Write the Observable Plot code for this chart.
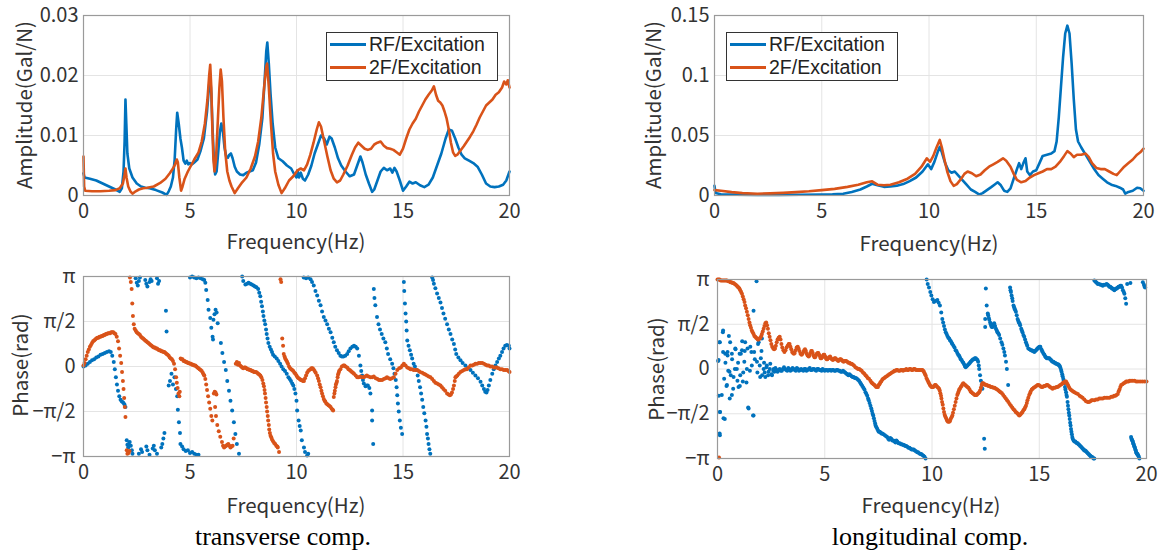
<!DOCTYPE html>
<html><head><meta charset="utf-8">
<script src="https://cdn.jsdelivr.net/npm/d3@7"></script>
<script src="https://cdn.jsdelivr.net/npm/@observablehq/plot@0.6"></script>
<style>
html,body{margin:0;padding:0;background:#fff;}
body{width:1162px;height:554px;position:relative;overflow:hidden;font-family:"Noto Sans CJK JP","Noto Sans",sans-serif;}
.panel{position:absolute;}
.xl{position:absolute;width:300px;text-align:center;font-size:20.5px;color:#333;line-height:22px;white-space:nowrap;}
.yl{position:absolute;width:240px;text-align:center;font-size:20.5px;color:#333;line-height:22px;white-space:nowrap;transform:rotate(-90deg);transform-origin:center center;}
.cap{position:absolute;width:400px;text-align:center;font-family:"Liberation Serif","Times New Roman",serif;font-size:26px;color:#000;line-height:30px;white-space:nowrap;}
.legend{position:absolute;background:#fff;border:1px solid #333;box-sizing:border-box;}
.legend .ln{position:absolute;height:3px;}
.legend .tx{position:absolute;font-family:"Liberation Sans",Arial,sans-serif;font-size:19.5px;color:#222;line-height:21px;white-space:nowrap;}
</style></head>
<body>
<script>
// ---------------- data ----------------
const seriesNames = ["RF/Excitation", "2F/Excitation"];
const seriesColors = ["#0072BD", "#D95319"];
const captions = ["transverse comp.", "longitudinal comp."];
const xLabel = "Frequency(Hz)";
const ampLabel = "Amplitude(Gal/N)";
const phaseLabel = "Phase(rad)";
const freqTicks = [0, 5, 10, 15, 20];
const ampTicksTransverse = [0, 0.01, 0.02, 0.03];
const ampTicksLongitudinal = [0, 0.05, 0.1, 0.15];
const phaseTicks = [-1, -0.5, 0, 0.5, 1];           // units of pi
const phaseTickLabels = ["−π", "−π/2", "0", "π/2", "π"];

// amplitude, transverse [Hz, Gal/N]
const ampTransRF = [[0,0.0037],[0.05,0.003],[0.3,0.0028],[0.6,0.0025],[0.9,0.002],[1.2,0.0015],[1.5,0.001],[1.7,0.0006],[1.8,0.0012],[1.88,0.004],[1.93,0.009],[1.97,0.016],[2.01,0.012],[2.06,0.007],[2.15,0.0045],[2.3,0.003],[2.5,0.002],[2.7,0.0015],[2.9,0.0013],[3.1,0.0012],[3.4,0.0009],[3.7,0.0005],[3.9,0.0001],[4.0,0.0007],[4.1,0.0015],[4.2,0.003],[4.28,0.006],[4.35,0.011],[4.4,0.0138],[4.47,0.012],[4.55,0.0095],[4.62,0.008],[4.7,0.0058],[4.78,0.0053],[4.85,0.0058],[4.92,0.0052],[5.0,0.0054],[5.1,0.0052],[5.2,0.0055],[5.35,0.006],[5.5,0.0075],[5.65,0.0095],[5.8,0.014],[5.9,0.0185],[5.95,0.0196],[6.0,0.017],[6.05,0.012],[6.12,0.006],[6.18,0.0035],[6.25,0.004],[6.32,0.007],[6.4,0.0105],[6.47,0.012],[6.55,0.0105],[6.62,0.008],[6.7,0.0065],[6.78,0.0063],[6.85,0.0068],[6.92,0.007],[7.0,0.0062],[7.1,0.0048],[7.2,0.004],[7.35,0.0035],[7.5,0.0034],[7.65,0.0038],[7.8,0.004],[7.95,0.0042],[8.1,0.0055],[8.25,0.0085],[8.4,0.013],[8.5,0.019],[8.58,0.024],[8.63,0.0255],[8.7,0.022],[8.78,0.017],[8.88,0.012],[9.0,0.008],[9.15,0.0062],[9.35,0.0057],[9.55,0.005],[9.75,0.0045],[9.9,0.0035],[10.0,0.003],[10.05,0.0042],[10.12,0.003],[10.2,0.0038],[10.3,0.0028],[10.4,0.0025],[10.55,0.0035],[10.7,0.005],[10.85,0.007],[11.0,0.0085],[11.15,0.01],[11.3,0.0095],[11.42,0.0085],[11.55,0.0098],[11.65,0.0095],[11.8,0.008],[11.95,0.0062],[12.1,0.005],[12.3,0.004],[12.5,0.0032],[12.7,0.0035],[12.85,0.005],[13.0,0.0065],[13.1,0.0055],[13.25,0.0035],[13.4,0.002],[13.55,0.0006],[13.65,0.001],[13.8,0.0025],[13.95,0.004],[14.1,0.0046],[14.25,0.0042],[14.4,0.0045],[14.5,0.0038],[14.6,0.0046],[14.7,0.004],[14.85,0.0025],[15.0,0.0008],[15.15,0.0015],[15.3,0.0023],[15.45,0.002],[15.6,0.0022],[15.8,0.0017],[16.0,0.0014],[16.2,0.0018],[16.4,0.003],[16.6,0.005],[16.8,0.007],[17.0,0.0095],[17.15,0.011],[17.3,0.0108],[17.45,0.0095],[17.6,0.008],[17.75,0.0068],[17.9,0.0062],[18.1,0.0058],[18.3,0.0054],[18.5,0.0048],[18.7,0.0035],[18.9,0.002],[19.1,0.0015],[19.3,0.0014],[19.5,0.0015],[19.7,0.0018],[19.85,0.0025],[20,0.004]];
const ampTrans2F = [[0,0.0065],[0.03,0.0015],[0.08,0.0008],[0.4,0.0007],[0.8,0.0007],[1.2,0.0008],[1.5,0.0009],[1.7,0.0012],[1.85,0.002],[1.93,0.0035],[1.97,0.0045],[2.02,0.003],[2.1,0.0015],[2.2,0.0007],[2.3,0.0003],[2.45,0.0007],[2.6,0.001],[2.8,0.0012],[3.0,0.0013],[3.3,0.0015],[3.6,0.0021],[3.85,0.0028],[4.05,0.0037],[4.2,0.0045],[4.3,0.0052],[4.38,0.006],[4.43,0.0055],[4.5,0.003],[4.58,0.0008],[4.65,0.0015],[4.75,0.0028],[4.9,0.004],[5.05,0.005],[5.2,0.006],[5.4,0.0072],[5.55,0.009],[5.7,0.012],[5.82,0.016],[5.9,0.02],[5.95,0.0218],[6.0,0.018],[6.05,0.011],[6.1,0.006],[6.15,0.004],[6.22,0.006],[6.3,0.012],[6.38,0.018],[6.44,0.021],[6.5,0.019],[6.57,0.013],[6.65,0.0075],[6.75,0.004],[6.85,0.0025],[6.95,0.0015],[7.1,0.0004],[7.25,0.0012],[7.45,0.0022],[7.65,0.003],[7.85,0.0045],[8.05,0.0065],[8.2,0.009],[8.35,0.013],[8.48,0.018],[8.58,0.0215],[8.62,0.022],[8.7,0.018],[8.8,0.012],[8.9,0.007],[9.0,0.004],[9.15,0.0018],[9.3,0.0004],[9.45,0.0012],[9.65,0.0025],[9.85,0.0032],[10.05,0.0042],[10.2,0.0045],[10.35,0.0042],[10.5,0.0052],[10.65,0.0068],[10.8,0.0088],[10.95,0.011],[11.05,0.0122],[11.15,0.0115],[11.3,0.009],[11.45,0.0065],[11.6,0.0042],[11.75,0.0028],[11.9,0.0022],[12.05,0.0025],[12.2,0.0035],[12.4,0.005],[12.6,0.0068],[12.75,0.008],[12.9,0.0088],[13.05,0.0083],[13.2,0.0078],[13.35,0.0076],[13.5,0.0078],[13.65,0.0085],[13.8,0.0088],[13.95,0.009],[14.1,0.0083],[14.25,0.0079],[14.4,0.0078],[14.55,0.0076],[14.7,0.0072],[14.85,0.0068],[15.0,0.0078],[15.15,0.0095],[15.3,0.011],[15.45,0.012],[15.6,0.0128],[15.75,0.014],[15.9,0.015],[16.05,0.016],[16.2,0.0168],[16.35,0.0175],[16.45,0.0182],[16.55,0.0168],[16.65,0.0158],[16.75,0.0155],[16.85,0.015],[16.95,0.014],[17.05,0.0128],[17.15,0.011],[17.25,0.0088],[17.35,0.0072],[17.45,0.0066],[17.55,0.0068],[17.7,0.0075],[17.85,0.0082],[18.0,0.009],[18.15,0.0098],[18.3,0.0107],[18.45,0.0118],[18.6,0.013],[18.75,0.014],[18.9,0.015],[19.05,0.0155],[19.2,0.016],[19.35,0.0168],[19.5,0.0172],[19.65,0.018],[19.75,0.019],[19.85,0.0185],[19.92,0.0192],[20,0.018]];

// amplitude, longitudinal [Hz, Gal/N]
const ampLongRF = [[0,0.008],[0.05,0.002],[0.3,0.001],[1,0.0007],[2,0.0005],[3,0.0005],[4,0.0006],[5,0.0008],[5.5,0.001],[6,0.0015],[6.4,0.003],[6.8,0.005],[7.1,0.0075],[7.35,0.0098],[7.6,0.0085],[7.9,0.0072],[8.2,0.0075],[8.5,0.0082],[8.8,0.0095],[9.1,0.012],[9.4,0.015],[9.7,0.02],[9.95,0.026],[10.1,0.022],[10.25,0.028],[10.4,0.036],[10.5,0.0405],[10.6,0.036],[10.75,0.027],[10.9,0.021],[11.05,0.019],[11.2,0.02],[11.35,0.017],[11.55,0.013],[11.75,0.009],[11.95,0.005],[12.15,0.003],[12.35,0.0008],[12.5,0.002],[12.7,0.0045],[12.9,0.007],[13.05,0.009],[13.2,0.011],[13.35,0.0085],[13.5,0.004],[13.65,0.003],[13.8,0.006],[13.95,0.014],[14.1,0.022],[14.2,0.027],[14.3,0.022],[14.4,0.027],[14.5,0.031],[14.58,0.02],[14.7,0.017],[14.85,0.02],[15.0,0.021],[15.15,0.027],[15.3,0.033],[15.5,0.034],[15.7,0.035],[15.85,0.037],[15.95,0.045],[16.05,0.065],[16.15,0.09],[16.25,0.115],[16.35,0.135],[16.45,0.1415],[16.55,0.135],[16.65,0.11],[16.75,0.08],[16.85,0.055],[16.95,0.045],[17.1,0.04],[17.3,0.034],[17.5,0.028],[17.7,0.022],[17.9,0.017],[18.1,0.014],[18.3,0.011],[18.5,0.009],[18.7,0.008],[18.9,0.0065],[19.05,0.005],[19.15,0.0015],[19.3,0.003],[19.5,0.004],[19.7,0.0065],[19.85,0.006],[20,0.004]];
const ampLong2F = [[0,0.0045],[0.3,0.004],[0.8,0.0028],[1.3,0.002],[2,0.0015],[2.6,0.0018],[3.2,0.0022],[3.8,0.0028],[4.4,0.0035],[5,0.0045],[5.6,0.0055],[6.2,0.0072],[6.7,0.009],[7.1,0.011],[7.35,0.0118],[7.6,0.009],[7.9,0.0085],[8.2,0.009],[8.6,0.011],[9.0,0.014],[9.35,0.018],[9.65,0.024],[9.9,0.031],[10.05,0.028],[10.2,0.033],[10.35,0.04],[10.5,0.0463],[10.6,0.04],[10.72,0.03],[10.85,0.02],[11.0,0.012],[11.15,0.008],[11.3,0.0095],[11.5,0.014],[11.65,0.018],[11.8,0.02],[12.0,0.0185],[12.2,0.016],[12.4,0.0175],[12.6,0.021],[12.8,0.024],[13.0,0.026],[13.2,0.028],[13.45,0.031],[13.6,0.029],[13.8,0.024],[13.95,0.018],[14.1,0.013],[14.3,0.011],[14.5,0.012],[14.7,0.015],[14.9,0.017],[15.1,0.0185],[15.3,0.02],[15.5,0.022],[15.7,0.022],[15.9,0.024],[16.1,0.028],[16.3,0.033],[16.45,0.037],[16.6,0.035],[16.75,0.032],[16.9,0.034],[17.1,0.034],[17.3,0.035],[17.45,0.032],[17.6,0.027],[17.8,0.023],[18.0,0.022],[18.2,0.022],[18.4,0.02],[18.6,0.018],[18.75,0.017],[18.9,0.02],[19.1,0.024],[19.3,0.027],[19.5,0.03],[19.7,0.034],[19.85,0.036],[20,0.039]];

// phase, transverse [Hz, phase in units of pi]
const phaseTransRF = [[0,0],[0.1,0.01],[0.2,0.03],[0.3,0.05],[0.4,0.07],[0.5,0.08],[0.6,0.1],[0.7,0.11],[0.8,0.13],[0.9,0.14],[1.0,0.15],[1.1,0.16],[1.2,0.17],[1.28,0.16],[1.35,0.12],[1.42,0.05],[1.47,-0.03],[1.52,-0.12],[1.57,-0.2],[1.62,-0.27],[1.68,-0.33],[1.74,-0.37],[1.8,-0.39],[1.86,-0.4],[1.92,-0.42],[1.97,-0.45],
[2.03,-0.82],[2.06,-0.87],[2.1,-0.9],[2.12,-0.86],[2.17,-0.84],[2.22,-0.88],[2.27,-0.93],[2.3,-0.97],[2.45,0.98],[2.5,0.93],[2.55,0.9],[2.6,0.95],[2.65,0.99],[2.6,-0.97],[2.7,-0.92],[2.75,-0.95],[2.9,0.96],[2.95,0.92],[3.0,0.89],[3.1,0.94],[2.95,-0.89],[3.0,-0.93],[3.1,-0.98],[3.15,0.97],[3.2,0.95],[3.25,-0.91],[3.3,-0.88],[3.35,-0.93],[3.45,-0.97],[3.45,0.98],[3.5,0.92],[3.55,0.95],[3.65,-0.9],[3.7,-0.86],[3.75,-0.8],[3.8,-0.74],[3.87,0.62],[3.9,0.39],
[4.0,-0.21],[4.06,-0.16],[4.13,-0.08],[4.2,-0.2],[4.27,-0.12],[4.34,-0.25],[4.4,-0.33],[4.43,-0.48],[4.48,-0.62],[4.53,-0.74],[4.55,-0.86],[4.63,-0.89],[4.7,-0.92],[4.8,-0.94],[4.9,-0.93],[5.0,-0.96],[5.1,-0.95],[5.2,-0.97],[5.3,-0.98],[5.4,-0.98],
[5.0,0.99],[5.1,1.0],[5.2,0.99],[5.3,0.98],[5.4,0.99],[5.5,0.98],[5.6,0.97],[5.67,0.96],[5.72,0.93],[5.76,0.85],[5.83,0.74],[5.87,0.63],[5.95,0.54],[6.0,0.43],[6.06,0.33],[6.08,0.3],[6.1,0.52],[6.15,0.58],[6.2,0.63],[6.25,0.6],[6.3,0.48],[6.45,0.26],[6.52,0.15],[6.6,0.05],[6.68,-0.04],[6.75,-0.16],[6.83,-0.27],[6.9,-0.38],[6.98,-0.49],[7.06,-0.62],[7.13,-0.75],[7.2,-0.86],[7.3,-0.97],
[7.45,1.0],[7.5,0.95],[7.6,0.91],[7.68,0.92],[7.75,0.93],[7.83,0.92],[7.9,0.91],[7.98,0.9],[8.05,0.89],[8.12,0.88],[8.2,0.86],[8.25,0.82],[8.3,0.78],[8.34,0.72],[8.38,0.67],[8.42,0.61],[8.45,0.56],[8.49,0.51],[8.53,0.47],[8.57,0.41],[8.6,0.36],[8.64,0.31],[8.68,0.26],[8.74,0.22],[8.8,0.19],[8.85,0.16],[8.9,0.13],[8.98,0.11],[9.07,0.09],[9.15,0.06],[9.23,0.03],[9.3,0.0],[9.38,-0.03],[9.46,-0.05],[9.54,-0.08],[9.62,-0.12],[9.68,-0.14],[9.74,-0.16],[9.8,-0.19],[9.85,-0.21],[9.9,-0.25],[9.95,-0.3],[10.0,-0.38],[10.03,-0.49],[10.1,-0.6],[10.15,-0.66],[10.2,-0.71],[10.25,-0.82],[10.35,-0.9],[10.4,-0.95],[10.5,-0.99],[10.55,-0.97],
[10.34,0.99],[10.45,0.98],[10.55,0.99],[10.66,0.97],[10.73,0.94],[10.81,0.9],[10.89,0.84],[10.97,0.79],[11.05,0.73],[11.13,0.68],[11.2,0.61],[11.28,0.55],[11.36,0.51],[11.44,0.47],[11.52,0.42],[11.6,0.38],[11.68,0.32],[11.75,0.27],[11.82,0.22],[11.9,0.18],[11.98,0.15],[12.06,0.12],[12.13,0.11],[12.2,0.11],[12.29,0.12],[12.38,0.14],[12.45,0.17],[12.53,0.2],[12.62,0.22],[12.7,0.23],[12.78,0.22],[12.85,0.2],[12.93,0.12],[13.0,0.01],[13.04,-0.05],[13.08,-0.1],[13.12,-0.15],[13.16,-0.19],[13.24,-0.22],[13.3,-0.21],[13.35,-0.21],[13.42,-0.24],[13.47,-0.3],[13.55,-0.49],[13.55,-0.6],[13.6,-0.86],
[13.63,0.86],[13.66,0.76],[13.7,0.68],[13.78,0.55],[13.85,0.47],[13.92,0.41],[14.0,0.36],[14.08,0.31],[14.17,0.27],[14.24,0.2],[14.3,0.14],[14.4,0.08],[14.49,0.03],[14.55,-0.02],[14.6,-0.08],[14.66,-0.15],[14.7,-0.23],[14.73,-0.32],[14.76,-0.41],[14.8,-0.5],[14.85,-0.6],[14.9,-0.68],[14.96,-0.75],
[15.04,0.94],[15.06,0.84],[15.09,0.7],[15.12,0.59],[15.15,0.5],[15.17,0.4],[15.2,0.29],[15.26,0.23],[15.32,0.18],[15.38,0.13],[15.43,0.09],[15.5,0.03],[15.56,0.0],[15.63,-0.04],[15.69,-0.1],[15.74,-0.16],[15.8,-0.23],[15.85,-0.3],[15.9,-0.37],[15.95,-0.45],[16.0,-0.52],[16.06,-0.6],[16.1,-0.67],[16.13,-0.75],[16.17,-0.8],[16.2,-0.86],[16.24,-0.92],[16.28,-0.97],
[16.37,0.99],[16.41,0.96],[16.45,0.92],[16.52,0.87],[16.6,0.81],[16.68,0.76],[16.76,0.71],[16.83,0.65],[16.9,0.59],[16.98,0.53],[17.07,0.47],[17.15,0.41],[17.23,0.36],[17.31,0.3],[17.39,0.25],[17.45,0.19],[17.5,0.14],[17.6,0.1],[17.7,0.07],[17.8,0.04],[17.93,0.01],[18.05,-0.02],[18.17,-0.04],[18.28,-0.07],[18.4,-0.1],[18.52,-0.13],[18.64,-0.17],[18.72,-0.21],[18.8,-0.25],[18.86,-0.28],[18.92,-0.29],[18.97,-0.26],[19.03,-0.21],[19.1,-0.15],[19.19,-0.08],[19.26,-0.03],[19.34,0.01],[19.42,0.05],[19.5,0.09],[19.57,0.12],[19.65,0.16],[19.72,0.2],[19.8,0.23],[19.88,0.24],[19.97,0.23],[20,0.2]];
const phaseTrans2F = [[0,0.01],[0.05,0.04],[0.1,0.08],[0.15,0.12],[0.2,0.16],[0.25,0.19],[0.3,0.22],[0.35,0.24],[0.4,0.26],[0.45,0.28],[0.5,0.29],[0.55,0.3],[0.6,0.31],[0.65,0.32],[0.7,0.32],[0.75,0.33],[0.8,0.33],[0.85,0.34],[0.9,0.34],[0.95,0.35],[1.0,0.35],[1.05,0.36],[1.1,0.36],[1.15,0.37],[1.2,0.37],[1.25,0.37],[1.3,0.38],[1.35,0.38],[1.4,0.38],[1.45,0.37],[1.5,0.36],[1.56,0.33],[1.62,0.28],[1.67,0.2],[1.72,0.12],[1.77,0.04],[1.81,-0.06],[1.85,-0.16],[1.88,-0.25],[1.91,-0.35],[1.94,-0.45],[1.97,-0.56],[2.03,-0.93],[2.06,-0.97],[2.12,-0.96],[2.16,-0.94],
[2.18,0.99],[2.22,0.94],[2.26,0.86],[2.29,0.7],[2.32,0.56],[2.36,0.47],[2.4,0.42],[2.45,0.4],[2.5,0.38],[2.55,0.37],[2.6,0.36],[2.65,0.35],[2.7,0.33],[2.75,0.32],[2.8,0.31],[2.85,0.3],[2.9,0.29],[2.95,0.28],[3.0,0.27],[3.05,0.26],[3.1,0.25],[3.15,0.24],[3.2,0.23],[3.25,0.22],[3.3,0.21],[3.35,0.21],[3.4,0.2],[3.45,0.2],[3.5,0.19],[3.55,0.18],[3.6,0.18],[3.65,0.17],[3.7,0.17],[3.75,0.16],[3.8,0.16],[3.85,0.15],[3.9,0.14],[3.95,0.13],[4.0,0.12],[4.05,0.1],[4.1,0.09],[4.15,0.08],[4.2,0.06],[4.25,0.03],[4.3,-0.03],[4.35,-0.12],[4.38,-0.18],[4.42,-0.24],[4.46,-0.3],[4.5,-0.33],[4.52,-0.28],
[4.56,0.09],[4.6,0.08],[4.65,0.08],[4.7,0.06],[4.75,0.06],[4.8,0.05],[4.85,0.05],[4.9,0.04],[4.95,0.04],[5.0,0.03],[5.05,0.03],[5.1,0.02],[5.15,0.02],[5.2,0.01],[5.25,0.01],[5.3,0.0],[5.35,-0.01],[5.4,-0.02],[5.45,-0.03],[5.5,-0.04],[5.55,-0.05],[5.6,-0.07],[5.64,-0.09],[5.67,-0.1],[5.72,-0.14],[5.76,-0.2],[5.8,-0.26],[5.85,-0.33],[5.9,-0.4],[5.95,-0.47],[6.0,-0.55],[6.05,-0.6],[6.12,-0.3],[6.16,-0.28],[6.2,-0.29],[6.24,-0.31],[6.18,-0.45],[6.22,-0.55],[6.28,-0.65],[6.35,-0.72],[6.42,-0.78],[6.5,-0.84],[6.55,-0.88],[6.6,-0.9],[6.65,-0.89],[6.7,-0.88],[6.75,-0.87],[6.8,-0.86],[6.85,-0.88],[6.9,-0.9],[6.95,-0.89],[7.0,-0.88],[7.05,-0.8],
[7.15,0.03],[7.2,0.05],[7.25,0.02],[7.3,0.04],[7.35,0.01],[7.4,0.0],[7.45,-0.01],[7.5,-0.02],[7.55,-0.01],[7.6,-0.01],[7.65,-0.02],[7.7,-0.03],[7.75,-0.03],[7.8,-0.04],[7.85,-0.04],[7.9,-0.05],[7.95,-0.05],[8.0,-0.06],[8.05,-0.06],[8.1,-0.06],[8.15,-0.07],[8.2,-0.08],[8.25,-0.09],[8.3,-0.1],[8.35,-0.12],[8.4,-0.15],[8.44,-0.19],[8.47,-0.22],[8.5,-0.26],[8.52,-0.3],[8.55,-0.35],[8.57,-0.4],[8.6,-0.45],[8.62,-0.5],[8.65,-0.55],[8.67,-0.6],[8.7,-0.65],[8.72,-0.7],[8.75,-0.74],[8.78,-0.77],[8.82,-0.79],[8.85,-0.81],[8.9,-0.83],[8.95,-0.85],[9.0,-0.86],[9.05,-0.88],[9.1,-0.89],[9.12,-0.9],[9.18,-0.95],
[9.25,0.97],[9.28,0.94],[9.33,0.31],[9.37,0.23],[9.4,0.14],[9.44,0.11],[9.47,0.09],[9.52,0.07],[9.56,0.05],[9.6,0.03],[9.65,0.0],[9.7,-0.02],[9.75,-0.03],[9.8,-0.04],[9.85,-0.05],[9.9,-0.07],[9.95,-0.08],[10.0,-0.1],[10.05,-0.12],[10.1,-0.13],[10.15,-0.14],[10.2,-0.15],[10.25,-0.15],[10.3,-0.16],[10.35,-0.16],[10.4,-0.13],[10.45,-0.1],[10.5,-0.07],[10.55,-0.05],[10.6,-0.04],[10.66,-0.03],[10.7,-0.02],[10.75,-0.02],[10.8,-0.03],[10.85,-0.05],[10.9,-0.07],[10.97,-0.1],[11.01,-0.13],[11.05,-0.16],[11.09,-0.2],[11.13,-0.23],[11.17,-0.27],[11.2,-0.3],[11.24,-0.33],[11.28,-0.36],[11.32,-0.38],[11.35,-0.39],[11.4,-0.41],[11.45,-0.42],[11.5,-0.43],[11.55,-0.44],[11.6,-0.45],[11.65,-0.47],[11.7,-0.48],[11.72,-0.49],
[11.75,-0.34],[11.78,-0.3],[11.8,-0.27],[11.83,-0.23],[11.85,-0.2],[11.88,-0.18],[11.9,-0.16],[11.93,-0.12],[11.95,-0.09],[11.98,-0.07],[12.0,-0.05],[12.06,-0.03],[12.13,0.0],[12.2,0.01],[12.25,0.01],[12.3,0.0],[12.38,-0.01],[12.44,-0.03],[12.5,-0.04],[12.55,-0.05],[12.6,-0.06],[12.65,-0.07],[12.7,-0.08],[12.78,-0.1],[12.85,-0.12],[12.92,-0.12],[13.0,-0.11],[13.07,-0.12],[13.15,-0.12],[13.22,-0.11],[13.3,-0.1],[13.38,-0.11],[13.47,-0.12],[13.55,-0.12],[13.63,-0.11],[13.72,-0.13],[13.8,-0.14],[13.87,-0.15],[13.94,-0.15],[14.02,-0.15],[14.1,-0.14],[14.18,-0.13],[14.25,-0.12],[14.33,-0.13],[14.4,-0.14],[14.48,-0.13],[14.57,-0.12],[14.65,-0.08],[14.73,-0.04],[14.82,-0.02],[14.9,-0.01],[14.97,0.01],[15.04,0.03],[15.12,0.01],[15.2,-0.01],[15.28,-0.02],[15.35,-0.03],[15.42,-0.03],[15.5,-0.04],[15.58,-0.04],[15.67,-0.04],[15.74,-0.05],[15.8,-0.06],[15.9,-0.07],[15.98,-0.08],[16.05,-0.09],[16.13,-0.1],[16.21,-0.11],[16.29,-0.12],[16.37,-0.14],[16.45,-0.16],[16.52,-0.18],[16.6,-0.19],[16.68,-0.2],[16.76,-0.21],[16.83,-0.23],[16.9,-0.25],[16.98,-0.27],[17.07,-0.3],[17.14,-0.31],[17.2,-0.32],[17.25,-0.31],[17.3,-0.29],[17.35,-0.25],[17.39,-0.21],[17.43,-0.16],[17.46,-0.12],[17.5,-0.11],[17.55,-0.1],[17.62,-0.08],[17.7,-0.06],[17.78,-0.05],[17.86,-0.04],[17.93,-0.03],[18.0,-0.03],[18.08,-0.01],[18.17,0.01],[18.25,0.01],[18.33,0.02],[18.4,0.03],[18.48,0.03],[18.56,0.04],[18.64,0.04],[18.72,0.04],[18.8,0.03],[18.88,0.02],[18.95,0.01],[19.02,0.01],[19.1,0.0],[19.18,0.0],[19.26,-0.01],[19.33,-0.01],[19.4,-0.01],[19.48,-0.02],[19.57,-0.03],[19.65,-0.03],[19.73,-0.04],[19.81,-0.04],[19.89,-0.04],[19.95,-0.05],[20,-0.06]];

// phase, longitudinal [Hz, phase in units of pi]
const phaseLongRF = [[0.03,0.09],[0.05,0.1],[0.06,-0.3],[0.09,0.3],[0.1,-0.72],[0.11,0.3],[0.11,-0.48],[0.12,-0.48],[0.11,-0.74],[0.2,-0.29],[0.25,0.41],[0.26,0.43],[0.26,0.19],[0.28,-0.55],[0.31,-0.11],[0.34,-0.56],[0.36,0.17],[0.37,0.07],[0.42,-0.19],[0.44,-0.18],[0.47,0.15],[0.47,0.19],[0.5,-0.02],[0.53,0.37],[0.56,-0.03],[0.57,-0.33],[0.59,0.3],[0.62,-0.07],[0.67,-0.29],[0.67,0.17],[0.68,0.11],[0.73,-0.22],[0.75,-0.09],[0.81,0],[0.83,0.23],[0.84,0.22],[0.9,0],[0.93,-0.13],[0.96,0.07],[0.98,-0.2],[1.03,0.17],[1.04,-0.19],[1.06,-0.07],[1.09,0.17],[1.14,0.21],[1.15,0.31],[1.18,-0.14],[1.2,-0.04],[1.25,0.08],[1.27,0.2],[1.29,0.3],[1.35,-0.15],[1.37,0],[1.4,0.23],[1.43,-0.43],[1.45,-0.44],[1.51,-0.02],[1.53,0.25],[1.58,0.19],[1.6,0.04],[1.66,-0.52],[1.68,-0.52],[1.68,0.65],[1.71,0.19],[1.74,0.11],[1.82,0.98],[1.84,0.08],[1.86,-0.04],[1.89,0.28],[1.92,0.3],[1.97,0.04],[1.99,-0.09],[2.02,0.12],[2.05,0.2],[2.07,0.34],[2.08,-0.07],[2.15,0],[2.17,0.07],[2.2,-0.04],[2.23,-0.09],[2.28,0.02],[2.3,0.04],[2.36,-0.07],[2.38,-0.03],[2.44,0],[2.46,0.06],[2.52,-0.06],[2.54,-0.07],[2.62,0],
[2.6,-0.02],[2.65,-0.03],[2.7,0.01],[2.75,-0.01],[2.8,-0.03],[2.85,-0.01],[2.9,0.0],[2.95,-0.02],[3.0,-0.02],[3.05,0.0],[3.1,0.02],[3.15,0.0],[3.2,-0.01],[3.25,-0.02],[3.3,0.01],[3.35,0.0],[3.4,-0.02],[3.45,-0.01],[3.5,0.01],[3.55,0.0],[3.6,-0.01],[3.65,-0.02],[3.7,0.01],[3.75,0.0],[3.8,-0.02],[3.85,-0.01],[3.9,0.0],[3.95,-0.01],[4.0,-0.02],[4.05,0.0],[4.1,0.0],[4.15,-0.02],[4.2,-0.01],[4.25,0.0],[4.3,0.01],[4.35,-0.01],[4.4,-0.01],[4.45,0.0],[4.5,0.0],[4.55,-0.01],[4.6,-0.02],[4.65,0.0],[4.7,0.0],[4.75,-0.01],[4.8,-0.01],[4.85,-0.02],[4.9,0.0],[4.95,-0.01],[5.0,-0.02],[5.05,-0.01],[5.1,-0.01],[5.15,-0.02],[5.2,-0.01],[5.25,-0.01],[5.3,-0.02],[5.35,-0.01],[5.4,-0.01],[5.45,-0.02],[5.5,-0.02],[5.55,-0.01],[5.6,-0.01],[5.65,-0.02],[5.7,-0.02],[5.75,-0.03],[5.8,-0.03],[5.85,-0.02],[5.9,-0.03],[5.95,-0.04],[6.0,-0.05],[6.05,-0.06],[6.1,-0.07],[6.15,-0.06],[6.2,-0.07],[6.25,-0.08],[6.3,-0.09],[6.35,-0.09],[6.4,-0.1],[6.45,-0.1],[6.5,-0.11],[6.55,-0.12],[6.6,-0.13],[6.65,-0.15],[6.7,-0.17],[6.75,-0.19],[6.8,-0.21],[6.85,-0.23],[6.9,-0.26],[6.94,-0.28],[6.98,-0.3],[7.02,-0.33],[7.05,-0.35],[7.09,-0.38],[7.13,-0.41],[7.17,-0.44],[7.2,-0.47],[7.23,-0.5],[7.26,-0.52],[7.29,-0.55],[7.32,-0.58],[7.35,-0.61],[7.37,-0.63],[7.41,-0.65],[7.45,-0.67],[7.49,-0.69],[7.52,-0.7],[7.56,-0.7],[7.6,-0.71],[7.64,-0.72],[7.68,-0.72],[7.74,-0.73],[7.8,-0.74],[7.86,-0.75],[7.91,-0.76],[7.96,-0.78],[8.0,-0.79],[8.05,-0.77],[8.1,-0.78],[8.15,-0.8],[8.2,-0.8],[8.25,-0.81],[8.3,-0.82],[8.34,-0.8],[8.38,-0.81],[8.44,-0.83],[8.5,-0.83],[8.55,-0.84],[8.6,-0.84],[8.65,-0.85],[8.7,-0.85],[8.75,-0.86],[8.8,-0.86],[8.85,-0.87],[8.9,-0.88],[8.95,-0.88],[9.0,-0.89],[9.05,-0.9],[9.1,-0.9],[9.15,-0.9],[9.2,-0.91],[9.25,-0.92],[9.31,-0.93],[9.35,-0.93],[9.4,-0.94],[9.45,-0.95],[9.5,-0.95],[9.55,-0.96],[9.6,-0.97],[9.65,-0.98],[9.7,-1.0],
[9.75,1.0],[9.8,0.95],[9.86,0.91],[9.92,0.86],[9.97,0.82],[10.03,0.78],[10.09,0.75],[10.17,0.76],[10.25,0.77],[10.31,0.74],[10.37,0.71],[10.43,0.63],[10.48,0.56],[10.52,0.52],[10.56,0.48],[10.6,0.44],[10.64,0.41],[10.68,0.39],[10.72,0.37],[10.76,0.35],[10.8,0.34],[10.84,0.32],[10.88,0.31],[10.92,0.29],[10.95,0.28],[11.0,0.26],[11.05,0.24],[11.1,0.21],[11.14,0.2],[11.18,0.18],[11.22,0.16],[11.26,0.15],[11.3,0.13],[11.34,0.11],[11.38,0.1],[11.42,0.08],[11.46,0.07],[11.5,0.05],[11.54,0.03],[11.57,0.02],[11.61,0.03],[11.65,0.04],[11.69,0.05],[11.73,0.06],[11.77,0.07],[11.8,0.08],[11.84,0.09],[11.88,0.1],[11.92,0.11],[11.96,0.11],[12.0,0.12],[12.04,0.12],[12.08,0.11],[12.12,0.1],[12.15,0.08],[12.18,0.04],[12.2,0.0],[12.24,-0.07],[12.28,-0.13],[12.32,-0.18],[12.35,-0.22],[12.43,-0.78],[12.46,-0.89],
[12.51,0.9],[12.55,0.71],[12.48,0.56],[12.48,0.47],[12.6,0.62],[12.62,0.6],[12.65,0.57],[12.67,0.55],[12.71,0.52],[12.74,0.5],[12.76,0.48],[12.79,0.47],[12.82,0.47],[12.86,0.5],[12.9,0.51],[12.94,0.48],[12.98,0.45],[13.02,0.43],[13.05,0.41],[13.09,0.4],[13.13,0.38],[13.18,0.34],[13.24,0.3],[13.28,0.27],[13.33,0.23],[13.37,0.19],[13.4,0.15],[13.45,0.08],[13.49,0.0],[13.55,-0.18],
[13.64,0.91],[13.66,0.88],[13.68,0.86],[13.71,0.82],[13.74,0.79],[13.76,0.76],[13.8,0.71],[13.83,0.69],[13.85,0.67],[13.88,0.66],[13.91,0.64],[13.95,0.6],[13.99,0.56],[14.02,0.54],[14.05,0.52],[14.08,0.51],[14.11,0.49],[14.16,0.45],[14.19,0.43],[14.22,0.41],[14.26,0.38],[14.3,0.36],[14.34,0.33],[14.38,0.3],[14.41,0.28],[14.44,0.26],[14.49,0.23],[14.55,0.22],[14.61,0.21],[14.65,0.21],[14.69,0.2],[14.73,0.2],[14.77,0.19],[14.81,0.2],[14.85,0.21],[14.89,0.22],[14.92,0.23],[14.96,0.24],[14.98,0.24],[15.02,0.25],[15.05,0.25],[15.1,0.22],[15.13,0.2],[15.16,0.19],[15.2,0.17],[15.24,0.16],[15.28,0.14],[15.31,0.13],[15.35,0.12],[15.39,0.12],[15.43,0.12],[15.47,0.12],[15.51,0.11],[15.55,0.1],[15.58,0.09],[15.62,0.08],[15.66,0.08],[15.7,0.07],[15.74,0.07],[15.78,0.06],[15.82,0.06],[15.86,0.05],[15.9,0.05],[15.93,0.04],[15.96,0.03],[15.99,0.01],[16.02,-0.01],[16.04,-0.03],[16.07,-0.06],[16.09,-0.08],[16.12,-0.11],[16.14,-0.13],[16.17,-0.16],[16.2,-0.2],[16.22,-0.23],[16.25,-0.26],[16.27,-0.29],[16.29,-0.31],[16.32,-0.37],[16.34,-0.41],[16.36,-0.45],[16.38,-0.49],[16.4,-0.52],[16.42,-0.56],[16.44,-0.6],[16.46,-0.63],[16.48,-0.67],[16.5,-0.7],[16.52,-0.73],[16.54,-0.76],[16.56,-0.78],[16.6,-0.8],[16.64,-0.81],[16.68,-0.81],[16.72,-0.82],[16.76,-0.83],[16.79,-0.83],[16.83,-0.84],[16.87,-0.85],[16.91,-0.86],[16.95,-0.87],[16.99,-0.88],[17.03,-0.89],[17.07,-0.9],[17.1,-0.91],[17.14,-0.91],[17.18,-0.92],[17.22,-0.93],[17.26,-0.94],[17.3,-0.95],[17.34,-0.96],[17.38,-0.97],[17.41,-0.98],[17.45,-0.98],[17.49,-0.99],[17.53,-1.0],[17.57,-1.0],
[17.57,0.99],[17.61,0.98],[17.65,0.97],[17.69,0.96],[17.73,0.95],[17.79,0.95],[17.85,0.94],[17.9,0.94],[17.96,0.93],[18.02,0.94],[18.08,0.94],[18.14,0.95],[18.19,0.94],[18.23,0.93],[18.27,0.92],[18.31,0.92],[18.35,0.91],[18.39,0.9],[18.42,0.9],[18.46,0.89],[18.5,0.88],[18.54,0.89],[18.58,0.9],[18.62,0.9],[18.66,0.91],[18.7,0.92],[18.74,0.92],[18.78,0.93],[18.82,0.93],[18.86,0.91],[18.9,0.88],[18.94,0.86],[18.97,0.84],[19.01,0.79],[19.05,0.73],[19.1,0.95],[19.25,0.96],[19.83,0.97],[19.88,0.94],[19.91,0.92],[19.94,0.91],
[19.28,-0.76],[19.3,-0.78],[19.32,-0.79],[19.34,-0.8],[19.36,-0.81],[19.38,-0.83],[19.4,-0.84],[19.42,-0.86],[19.44,-0.87],[19.46,-0.88],[19.48,-0.9],[19.5,-0.91],[19.52,-0.93],[19.54,-0.94],[19.56,-0.95],[19.58,-0.95],[19.6,-0.96],[19.62,-0.97],[19.64,-0.98],[19.67,-1.0]];
const phaseLong2F = [[0,1.0],[0.07,-0.99],[0.05,1.0],[0.1,1.0],[0.15,0.99],[0.2,0.99],[0.25,0.99],[0.3,0.99],[0.35,0.99],[0.4,0.99],[0.44,0.99],[0.5,0.98],[0.55,0.98],[0.6,0.97],[0.65,0.97],[0.7,0.96],[0.75,0.96],[0.8,0.95],[0.85,0.94],[0.9,0.93],[0.94,0.92],[0.98,0.91],[1.02,0.9],[1.06,0.88],[1.1,0.86],[1.14,0.84],[1.18,0.81],[1.22,0.78],[1.26,0.75],[1.29,0.71],[1.33,0.68],[1.37,0.64],[1.41,0.6],[1.45,0.56],[1.49,0.52],[1.52,0.49],[1.56,0.46],[1.6,0.43],[1.64,0.41],[1.68,0.39],[1.72,0.37],[1.76,0.36],[1.8,0.35],[1.84,0.34],[1.88,0.33],[1.92,0.33],[1.96,0.34],[2.0,0.35],[2.04,0.37],[2.07,0.39],[2.11,0.42],[2.15,0.45],[2.19,0.48],[2.23,0.51],[2.27,0.52],[2.31,0.49],[2.35,0.45],[2.39,0.4],[2.43,0.36],[2.47,0.32],[2.51,0.28],[2.55,0.25],[2.6,0.23],[2.64,0.22],[2.68,0.23],[2.72,0.26],[2.76,0.3],[2.8,0.33],[2.85,0.35],[2.9,0.36],[2.94,0.33],[2.98,0.28],[3.02,0.24],[3.07,0.21],[3.12,0.19],[3.17,0.21],[3.22,0.24],[3.27,0.26],[3.32,0.28],[3.36,0.28],[3.4,0.25],[3.44,0.22],[3.48,0.19],[3.52,0.18],[3.56,0.17],[3.6,0.18],[3.64,0.21],[3.69,0.24],[3.74,0.25],[3.78,0.23],[3.82,0.2],[3.87,0.17],[3.92,0.16],[3.96,0.17],[4.0,0.19],[4.04,0.21],[4.08,0.22],[4.12,0.2],[4.16,0.17],[4.2,0.15],[4.25,0.14],[4.29,0.15],[4.33,0.18],[4.37,0.2],[4.4,0.2],[4.44,0.18],[4.48,0.15],[4.52,0.13],[4.55,0.13],[4.59,0.15],[4.63,0.17],[4.67,0.18],[4.7,0.18],[4.74,0.16],[4.78,0.14],[4.81,0.12],[4.84,0.12],[4.88,0.13],[4.92,0.15],[4.95,0.16],[4.98,0.16],[5.02,0.14],[5.06,0.12],[5.09,0.11],[5.12,0.11],[5.16,0.12],[5.2,0.13],[5.25,0.14],[5.29,0.12],[5.33,0.11],[5.38,0.1],[5.42,0.11],[5.46,0.12],[5.5,0.12],[5.54,0.11],[5.58,0.1],[5.63,0.09],[5.67,0.1],[5.71,0.11],[5.75,0.11],[5.79,0.1],[5.83,0.09],[5.88,0.08],[5.92,0.09],[5.96,0.09],[6.0,0.09],[6.05,0.08],[6.1,0.07],[6.15,0.07],[6.2,0.06],[6.25,0.06],[6.3,0.05],[6.36,0.04],[6.43,0.02],[6.49,0.01],[6.55,0.0],[6.61,0.0],[6.67,-0.01],[6.72,-0.02],[6.78,-0.04],[6.84,-0.05],[6.9,-0.07],[6.95,-0.08],[7.0,-0.1],[7.06,-0.11],[7.13,-0.13],[7.18,-0.15],[7.22,-0.16],[7.27,-0.17],[7.32,-0.18],[7.36,-0.19],[7.4,-0.2],[7.44,-0.2],[7.48,-0.2],[7.52,-0.18],[7.55,-0.17],[7.59,-0.15],[7.63,-0.14],[7.68,-0.12],[7.72,-0.11],[7.78,-0.1],[7.83,-0.09],[7.89,-0.08],[7.95,-0.07],[8.01,-0.06],[8.07,-0.05],[8.13,-0.04],[8.2,-0.03],[8.25,-0.02],[8.3,-0.02],[8.35,-0.01],[8.38,-0.01],[8.44,-0.02],[8.5,-0.02],[8.55,-0.01],[8.6,-0.01],[8.65,-0.02],[8.69,-0.01],[8.75,-0.01],[8.8,0.0],[8.85,-0.01],[8.9,-0.01],[8.95,0.0],[9.0,0],[9.05,-0.01],[9.1,-0.01],[9.15,0.0],[9.2,0.0],[9.25,-0.01],[9.31,-0.01],[9.37,-0.01],[9.43,-0.01],[9.49,-0.01],[9.55,-0.01],[9.59,-0.02],[9.62,-0.03],[9.66,-0.05],[9.7,-0.07],[9.74,-0.1],[9.78,-0.12],[9.82,-0.14],[9.86,-0.16],[9.9,-0.18],[9.94,-0.19],[9.98,-0.2],[10.02,-0.2],[10.06,-0.2],[10.1,-0.19],[10.14,-0.18],[10.17,-0.18],[10.21,-0.19],[10.25,-0.2],[10.29,-0.21],[10.33,-0.22],[10.36,-0.24],[10.39,-0.27],[10.42,-0.3],[10.44,-0.33],[10.47,-0.37],[10.5,-0.4],[10.53,-0.44],[10.56,-0.48],[10.59,-0.51],[10.62,-0.53],[10.66,-0.55],[10.69,-0.57],[10.72,-0.58],[10.75,-0.59],[10.8,-0.59],[10.84,-0.58],[10.87,-0.56],[10.91,-0.54],[10.95,-0.52],[10.98,-0.49],[11.02,-0.45],[11.06,-0.41],[11.1,-0.37],[11.14,-0.33],[11.18,-0.29],[11.21,-0.27],[11.24,-0.25],[11.27,-0.23],[11.3,-0.22],[11.34,-0.2],[11.38,-0.19],[11.42,-0.17],[11.46,-0.16],[11.5,-0.17],[11.55,-0.18],[11.6,-0.19],[11.65,-0.2],[11.7,-0.21],[11.75,-0.23],[11.8,-0.25],[11.84,-0.26],[11.89,-0.27],[11.94,-0.28],[11.99,-0.29],[12.04,-0.29],[12.08,-0.29],[12.12,-0.28],[12.16,-0.27],[12.2,-0.26],[12.24,-0.24],[12.28,-0.21],[12.32,-0.18],[12.35,-0.16],[12.39,-0.16],[12.42,-0.17],[12.46,-0.17],[12.5,-0.18],[12.56,-0.18],[12.62,-0.19],[12.68,-0.19],[12.74,-0.2],[12.8,-0.2],[12.86,-0.21],[12.92,-0.21],[12.98,-0.22],[13.04,-0.23],[13.1,-0.24],[13.15,-0.25],[13.2,-0.26],[13.26,-0.27],[13.32,-0.29],[13.38,-0.31],[13.44,-0.33],[13.5,-0.35],[13.56,-0.37],[13.62,-0.39],[13.68,-0.41],[13.74,-0.43],[13.8,-0.45],[13.85,-0.46],[13.9,-0.48],[13.95,-0.49],[14.0,-0.5],[14.04,-0.51],[14.07,-0.52],[14.11,-0.51],[14.15,-0.5],[14.19,-0.49],[14.22,-0.48],[14.26,-0.46],[14.3,-0.45],[14.34,-0.43],[14.38,-0.41],[14.42,-0.38],[14.45,-0.35],[14.49,-0.32],[14.53,-0.29],[14.57,-0.27],[14.6,-0.25],[14.65,-0.23],[14.69,-0.22],[14.74,-0.21],[14.8,-0.2],[14.86,-0.19],[14.92,-0.18],[14.98,-0.18],[15.04,-0.19],[15.1,-0.2],[15.16,-0.2],[15.22,-0.19],[15.28,-0.19],[15.34,-0.18],[15.39,-0.18],[15.45,-0.19],[15.5,-0.2],[15.56,-0.21],[15.62,-0.22],[15.68,-0.21],[15.74,-0.21],[15.8,-0.2],[15.86,-0.2],[15.92,-0.19],[15.98,-0.18],[16.04,-0.17],[16.09,-0.16],[16.13,-0.15],[16.17,-0.15],[16.21,-0.14],[16.25,-0.14],[16.29,-0.16],[16.32,-0.17],[16.36,-0.19],[16.4,-0.21],[16.46,-0.23],[16.52,-0.24],[16.58,-0.25],[16.64,-0.26],[16.72,-0.27],[16.8,-0.28],[16.88,-0.3],[16.95,-0.31],[17.02,-0.32],[17.1,-0.34],[17.18,-0.36],[17.26,-0.37],[17.32,-0.37],[17.38,-0.36],[17.44,-0.35],[17.49,-0.35],[17.57,-0.35],[17.65,-0.34],[17.72,-0.34],[17.8,-0.33],[17.88,-0.33],[17.96,-0.33],[18.04,-0.32],[18.12,-0.32],[18.2,-0.32],[18.28,-0.32],[18.36,-0.31],[18.43,-0.31],[18.49,-0.3],[18.55,-0.3],[18.6,-0.29],[18.66,-0.28],[18.7,-0.25],[18.74,-0.23],[18.78,-0.2],[18.82,-0.18],[18.88,-0.17],[18.94,-0.16],[19.0,-0.15],[19.05,-0.14],[19.1,-0.14],[19.16,-0.14],[19.22,-0.13],[19.28,-0.13],[19.36,-0.13],[19.44,-0.13],[19.52,-0.14],[19.6,-0.14],[19.7,-0.14],[19.8,-0.14],[19.9,-0.14],[20,-0.14]];

// ---------------- drawing ----------------
const FONT = '"Noto Sans CJK JP","Noto Sans",sans-serif';
const TEXT = "#333";
const FRAME = "#9a9a9a";
const GRID = "#e4e4e4";
const TICK_FS = 20;

function base(opts) {
  return {
    width: opts.width, height: opts.height,
    marginLeft: opts.ml, marginRight: opts.mr, marginTop: opts.mt, marginBottom: opts.mb,
    style: {fontFamily: FONT, fontSize: TICK_FS + "px", color: TEXT, background: "transparent", overflow: "visible"},
    x: {domain: [0, 20]},
  };
}

function grids(yTicks) {
  return [
    Plot.gridX(freqTicks.slice(1, -1), {stroke: GRID, strokeOpacity: 1, strokeWidth: 1}),
    Plot.gridY(yTicks.slice(1, -1), {stroke: GRID, strokeOpacity: 1, strokeWidth: 1}),
  ];
}
function frameAxes(yTicks, yFmt, yPad) {
  return [
    Plot.frame({stroke: FRAME, strokeWidth: 1.2}),
    Plot.axisX(freqTicks, {tickSize: 0, tickPadding: 8, label: null, fontSize: TICK_FS, fill: TEXT, tickFormat: d => String(d)}),
    Plot.axisY(yTicks, {tickSize: 0, tickPadding: yPad, label: null, fontSize: TICK_FS, fill: TEXT, tickFormat: yFmt}),
  ];
}

function ampPanel(rf, f2, yTicks, geo) {
  const o = base(geo);
  o.y = {domain: [yTicks[0], yTicks[yTicks.length - 1]]};
  o.marks = [
    ...grids(yTicks),
    Plot.line(rf, {x: d => d[0], y: d => d[1], stroke: seriesColors[0], strokeWidth: 2.6}),
    Plot.line(f2, {x: d => d[0], y: d => d[1], stroke: seriesColors[1], strokeWidth: 2.6}),
    ...frameAxes(yTicks, d => String(d), 5),
  ];
  return Plot.plot(o);
}

function phasePanel(rf, f2, geo) {
  const o = base(geo);
  o.y = {domain: [-1, 1]};
  o.marks = [
    ...grids(phaseTicks),
    Plot.dot(rf, {x: d => d[0], y: d => d[1], r: 2, fill: seriesColors[0], stroke: null}),
    Plot.dot(f2, {x: d => d[0], y: d => d[1], r: 2, fill: seriesColors[1], stroke: null}),
    ...frameAxes(phaseTicks, d => phaseTickLabels[phaseTicks.indexOf(d)], 8),
  ];
  return Plot.plot(o);
}

function place(node, left, top) {
  const d = document.createElement("div");
  d.className = "panel";
  d.style.left = left + "px"; d.style.top = top + "px";
  d.appendChild(node);
  document.body.appendChild(d);
}
function addText(cls, text, left, top) {
  const d = document.createElement("div");
  d.className = cls; d.textContent = text;
  d.style.left = left + "px"; d.style.top = top + "px";
  document.body.appendChild(d);
}
function addLegend(left, top) {
  const lg = document.createElement("div");
  lg.className = "legend";
  Object.assign(lg.style, {left: left + "px", top: top + "px", width: "172px", height: "49px"});
  seriesNames.forEach((name, i) => {
    const ln = document.createElement("div");
    ln.className = "ln";
    Object.assign(ln.style, {left: "3px", width: "36px", top: (10 + i * 23) + "px", background: seriesColors[i]});
    const tx = document.createElement("div");
    tx.className = "tx";
    tx.textContent = name;
    Object.assign(tx.style, {left: "42px", top: (1 + i * 23) + "px"});
    lg.appendChild(ln); lg.appendChild(tx);
  });
  document.body.appendChild(lg);
}

// top-left: plot area x 83..509, y 15..195
place(ampPanel(ampTransRF, ampTrans2F, ampTicksTransverse, {width: 520, height: 255, ml: 83, mr: 11, mt: 15, mb: 60}), 0, 0);
// top-right: plot area x 714..1143, y 15..195
place(ampPanel(ampLongRF, ampLong2F, ampTicksLongitudinal, {width: 562, height: 255, ml: 114, mr: 19, mt: 15, mb: 60}), 600, 0);
// bottom-left: plot area x 83..509, y 276..456
place(phasePanel(phaseTransRF, phaseTrans2F, {width: 520, height: 250, ml: 83, mr: 11, mt: 16, mb: 54}), 0, 260);
// bottom-right: plot area x 717..1146, y 279..458
place(phasePanel(phaseLongRF, phaseLong2F, {width: 562, height: 250, ml: 117, mr: 16, mt: 19, mb: 52}), 600, 260);

// axis titles
addText("xl", xLabel, 296 - 150, 229);
addText("xl", xLabel, 929 - 150, 231);
addText("xl", xLabel, 296 - 150, 493);
addText("xl", xLabel, 931 - 150, 493);
addText("yl", ampLabel, 23 - 120, 105 - 11);
addText("yl", ampLabel, 652 - 120, 105 - 11);
addText("yl", phaseLabel, 19 - 120, 365 - 11);
addText("yl", phaseLabel, 655 - 120, 369 - 11);

// legends
addLegend(326, 32);
addLegend(726, 32);

// captions
addText("cap", captions[0], 283 - 200, 522);
addText("cap", captions[1], 930 - 200, 522);
</script>
</body></html>
